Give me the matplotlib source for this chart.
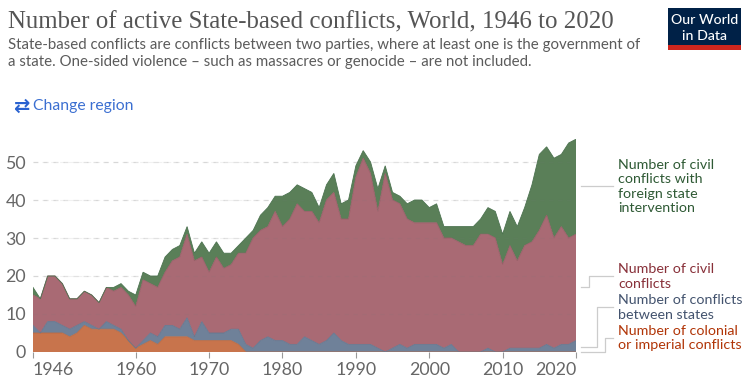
import matplotlib
matplotlib.use("Agg")
import matplotlib.pyplot as plt
from matplotlib.patches import Rectangle
from matplotlib.lines import Line2D
from matplotlib.transforms import Affine2D

years = list(range(1946, 2021))
colonial = [5,5,5,5,5,4,5,7,6,6,6,6,5,3,1,2,3,2,4,4,4,4,3,3,3,3,3,3,2] + [0]*46
interstate = [2,0,3,3,2,2,2,1,1,0,2,1,1,0,0,1,2,2,3,3,2,5,1,5,2,2,2,3,4,2,1,3,4,3,3,2,2,4,3,2,3,5,3,2,2,
              2,2,1,0,1,2,1,2,2,2,2,1,2,0,0,0,0,1,0,0,1,1,1,1,1,2,1,2,2,3]
civil = [8,9,12,12,11,8,7,8,8,7,9,9,11,12,11,16,13,13,14,17,19,22,20,17,16,20,17,17,20,24,29,29,29,34,30,33,37,33,34,32,37,37,32,33,44,
         49,45,36,47,39,37,34,32,32,32,32,29,28,29,28,28,31,30,30,23,27,23,27,28,31,34,29,31,28,28]
intervention = [2,0,0,0,0,0,0,0,0,0,0,1,1,1,3,2,2,3,4,3,3,2,2,4,5,4,4,3,2,4,2,4,5,4,8,7,5,6,5,4,4,5,4,5,3,
                2,3,6,2,2,2,4,6,6,4,5,3,3,4,5,5,4,7,7,8,9,9,10,15,20,18,21,19,25,25]
series_colors = ["#C8744C", "#6F8199", "#A96A74", "#5A7F58"]
edge_colors = ["#B96A44", "#64768F", "#9A5C67", "#4C7350"]
y_ticks = [0, 10, 20, 30, 40, 50]
x_ticks = [1946, 1960, 1970, 1980, 1990, 2000, 2010, 2020]

W, H = 754, 387
plt.rcParams["font.family"] = ["Lato", "DejaVu Sans"]
fig = plt.figure(figsize=(W/100, H/100), dpi=100)
ax = fig.add_axes([33/W, (H-352)/H, 543/W, 3.8*56/H])

polys = ax.stackplot(years, colonial, interstate, civil, intervention,
                     colors=series_colors, edgecolor="none", zorder=2)
cum = [0]*len(years)
for vals, ec in zip([colonial, interstate, civil, intervention], edge_colors):
    cum = [a+b for a, b in zip(cum, vals)]
    ax.plot(years, cum, color=ec, lw=0.6, zorder=3, solid_joinstyle="miter")

ax.set_xlim(1946, 2020)
ax.set_ylim(0, 56)
for s in ax.spines.values():
    s.set_visible(False)
ax.patch.set_alpha(0)
ax.set_yticks(y_ticks)
ax.set_xticks(x_ticks)
ax.tick_params(axis="y", length=0, pad=5, labelsize=12.8, labelcolor="#666666")
ax.tick_params(axis="x", length=4, width=0.8, color="#999999", pad=3, labelsize=12.8, labelcolor="#666666")
labels = ax.get_xticklabels()
labels[0].set_ha("left")
labels[-1].set_ha("right")
ax.grid(axis="y", color="#e2e2e2", lw=0.9, ls=(0, (4, 4)), zorder=1)
ax.set_axisbelow(True)
for y in y_ticks[1:]:
    ax.axhline(y, color="#777777", alpha=0.10, lw=0.8, ls=(0, (4, 4)), zorder=4)

# pixel-space overlay (origin at top left)
px = Affine2D().scale(1/W, -1/H).translate(0, 1) + fig.transFigure
def T(x, y, s, **kw):
    fig.text(x, y, s, transform=px, va="center", **kw)

T(8, 22, "Number of active State-based conflicts, World, 1946 to 2020",
  family="Liberation Serif", fontsize=17.95, color="#555555")
T(8, 45, "State-based conflicts are conflicts between two parties, where at least one is the government of",
  fontsize=10.8, color="#5b5b5b")
T(8, 62, "a state. One-sided violence – such as massacres or genocide – are not included.",
  fontsize=10.8, color="#5b5b5b")
T(13, 106, "⇄", family="DejaVu Sans", fontsize=14, color="#2a62d0", fontweight="bold")
T(33, 106, "Change region", fontsize=11.3, color="#3b6fd1")

# logo
fig.add_artist(Rectangle((668, 8), 73, 37, transform=px, fc="#002147", ec="none"))
fig.add_artist(Rectangle((668, 45), 73, 5, transform=px, fc="#CE261E", ec="none"))
T(704.5, 20, "Our World", fontsize=10.2, color="white", ha="center", fontweight="medium")
T(704.5, 36, "in Data", fontsize=10.2, color="white", ha="center", fontweight="medium")

# direct labels
legend = [
    (["Number of civil", "conflicts with", "foreign state", "intervention"], [165, 179, 194, 208], "#2F5A35"),
    (["Number of civil", "conflicts"], [269, 284], "#883039"),
    (["Number of conflicts", "between states"], [300, 315], "#43536E"),
    (["Number of colonial", "or imperial conflicts"], [331, 345], "#B13507"),
]
for lines, ys, c in legend:
    for s, y in zip(lines, ys):
        T(618.5, y, s, fontsize=10.3, color=c)

connectors = [
    ([581, 613], [186, 186]),
    ([581, 589, 589, 613], [287, 287, 276, 276]),
    ([581, 597, 597, 613], [347, 347, 307, 307]),
    ([581, 605, 605, 613], [352, 352, 338, 338]),
]
for xs, ys in connectors:
    fig.add_artist(Line2D(xs, ys, transform=px, color="#cccccc", lw=0.9))

fig.savefig("out.png", dpi=100)
